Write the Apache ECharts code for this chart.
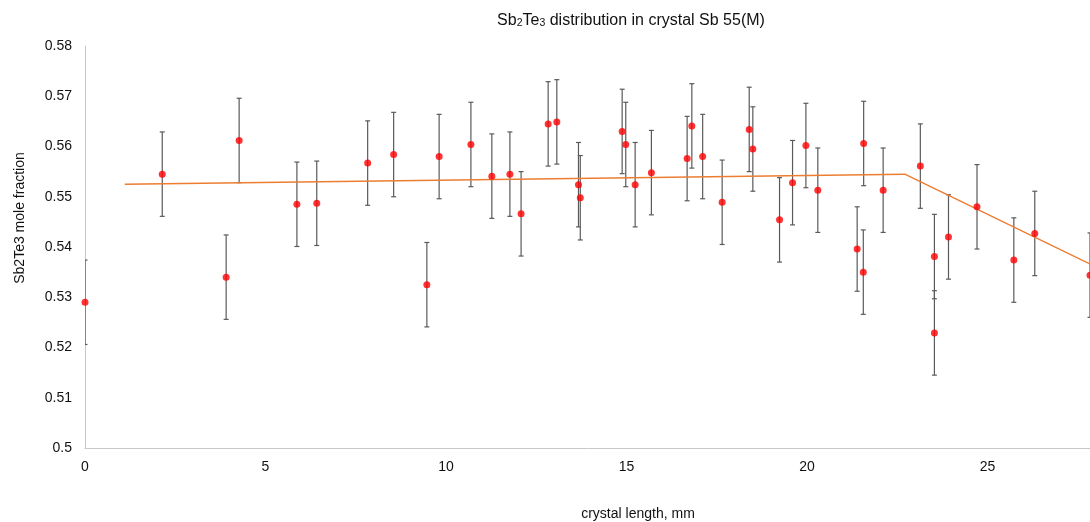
<!DOCTYPE html>
<html>
<head>
<meta charset="utf-8">
<script src="https://cdn.jsdelivr.net/npm/echarts@6/dist/echarts.min.js"></script>
<style>html,body{margin:0;padding:0;background:#fff}#c{width:1090px;height:522px}</style>
</head>
<body>
<div id="c"></div>
<script>
// crystal length, mm
var xValues = [0, 2.14, 3.91, 4.27, 5.87, 6.42, 7.83, 8.55, 9.47, 9.81, 10.69, 11.27, 11.77, 12.08, 12.83, 13.07, 13.67, 13.72,
  14.88, 14.98, 15.24, 15.69, 16.68, 16.81, 17.11, 17.65, 18.40, 18.50, 19.24, 19.60, 19.97, 20.30,
  21.39, 21.56, 21.57, 22.11, 23.14, 23.53, 23.53, 23.92, 24.71, 25.73, 26.31, 27.84];
// Sb2Te3 mole fraction
var yValues = [0.5290, 0.5545, 0.5340, 0.5612, 0.5485, 0.5487, 0.5567, 0.5584, 0.5325, 0.5580, 0.5604, 0.5541, 0.5545, 0.5466, 0.5645, 0.5649, 0.5524, 0.5498,
  0.5630, 0.5604, 0.5524, 0.5548, 0.5576, 0.5641, 0.5580, 0.5489, 0.5634, 0.5595, 0.5454, 0.5528, 0.5602, 0.5513,
  0.5396, 0.5350, 0.5606, 0.5513, 0.5561, 0.5381, 0.5229, 0.5420, 0.5480, 0.5374, 0.5427, 0.5344];
var errorMargin = 0.0084;
// trend line
var trendX = [1.1, 22.71, 27.9];
var trendY = [0.5525, 0.5545, 0.5364];
var xTicks = [0, 5, 10, 15, 20, 25];
var xVisibleMax = 27.84; // the picture is cut off at this length
var yTicks = [0.5, 0.51, 0.52, 0.53, 0.54, 0.55, 0.56, 0.57, 0.58];

var points = xValues.map(function (x, i) { return [x, yValues[i]]; });
var errData = xValues.map(function (x, i) { return [x, yValues[i] - errorMargin, yValues[i] + errorMargin]; });
var trend = trendX.map(function (x, i) { return [x, trendY[i]]; });

var FONT = 'Liberation Sans';
var chart = echarts.init(document.getElementById('c'), null, {renderer: 'canvas'});
chart.setOption({
  animation: false,
  backgroundColor: '#fff',
  grid: {left: 85, right: 0, top: 46, bottom: 74, containLabel: false},
  xAxis: {
    type: 'value', min: xTicks[0], max: xVisibleMax, interval: 5,
    axisLine: {show: true, lineStyle: {color: '#c8c8c8', width: 1}},
    axisTick: {show: false}, splitLine: {show: false},
    axisLabel: {color: '#111', fontFamily: FONT, fontSize: 14, margin: 12, showMaxLabel: false,
      formatter: function (v) { return xTicks.indexOf(v) >= 0 ? String(v) : ''; }}
  },
  yAxis: {
    type: 'value', min: yTicks[0], max: yTicks[yTicks.length - 1], interval: 0.01,
    axisLine: {show: true, lineStyle: {color: '#c8c8c8', width: 1}},
    axisTick: {show: false}, splitLine: {show: false},
    axisLabel: {color: '#111', fontFamily: FONT, fontSize: 14, margin: 13,
      formatter: function (v) { return String(Math.round(v * 100) / 100); }}
  },
  graphic: [
    {type: 'text', x: 631, y: 21, style: {
      text: 'Sb{sub|2}Te{sub|3} distribution in crystal Sb 55(M)',
      fontFamily: FONT, fontSize: 16, fill: '#111', align: 'center', verticalAlign: 'middle',
      rich: {sub: {fontSize: 10.5, lineHeight: 10, verticalAlign: 'bottom', fontFamily: FONT, fill: '#111'}}
    }},
    {type: 'text', x: 20, y: 218, rotation: Math.PI / 2, style: {
      text: 'Sb2Te3 mole fraction', fontFamily: FONT, fontSize: 14, fill: '#111',
      align: 'center', verticalAlign: 'middle'}},
    {type: 'text', x: 638, y: 514, style: {
      text: 'crystal length, mm', fontFamily: FONT, fontSize: 14, fill: '#111',
      align: 'center', verticalAlign: 'middle'}}
  ],
  series: [
    {
      type: 'custom', z: 1, clip: true,
      data: errData,
      renderItem: function (params, api) {
        var x = api.value(0);
        var lo = api.coord([x, api.value(1)]);
        var hi = api.coord([x, api.value(2)]);
        var c = 2.5;
        var st = {stroke: '#5a5a5a', lineWidth: 1.2};
        return {type: 'group', children: [
          {type: 'line', shape: {x1: lo[0], y1: lo[1], x2: hi[0], y2: hi[1]}, style: st},
          {type: 'line', shape: {x1: lo[0] - c, y1: lo[1], x2: lo[0] + c, y2: lo[1]}, style: st},
          {type: 'line', shape: {x1: hi[0] - c, y1: hi[1], x2: hi[0] + c, y2: hi[1]}, style: st}
        ]};
      }
    },
    {
      type: 'line', z: 2, data: trend, showSymbol: false, symbol: 'none',
      lineStyle: {color: '#ED7D31', width: 1.5}, silent: true
    },
    {
      type: 'scatter', z: 3, data: points, symbol: 'circle', symbolSize: 7,
      itemStyle: {color: '#ff0000'}
    }
  ]
});
</script>
</body>
</html>
